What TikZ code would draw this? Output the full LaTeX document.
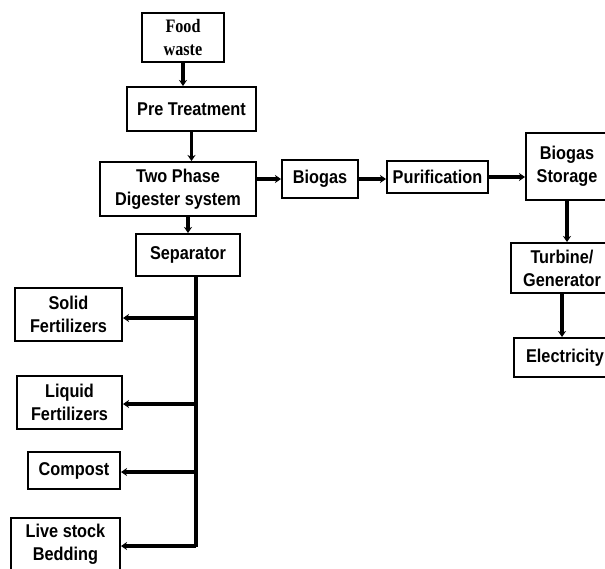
\documentclass[tikz,border=0pt]{standalone}
\usepackage{fontspec}
\setmainfont{Liberation Sans}[FakeStretch=0.88]
\newfontfamily\foodfont{Liberation Serif}[FakeStretch=0.85]
\usetikzlibrary{arrows.meta}

\begin{document}
\begin{tikzpicture}[
          x=1pt, y=-1pt,
          every node/.style={font=\fontsize{18.5}{23}\selectfont\bfseries, draw, rectangle, line width=2pt, align=center, inner sep=0pt},
          flow/.style={line width=3.5pt, -{Stealth[length=6pt,width=8pt]}},
          trunk/.style={line width=4.5pt},
        ]
        \useasboundingbox (0,0) rectangle (605,568);

        % main line
        \node[minimum width=82pt, minimum height=49pt, font=\fontsize{19}{23}\selectfont\foodfont\bfseries] (food) at (183,37.5) {Food\\waste};
        \node[minimum width=129pt, minimum height=44pt] (pre) at (191.5,109) {Pre Treatment};
        \node[minimum width=156pt, minimum height=54pt] (digester) at (178,189) {Two Phase\\Digester system};
        \node[minimum width=104pt, minimum height=42pt] (separator) at (188,255) {Separator};

        % gas line
        \node[minimum width=76pt, minimum height=38pt] (biogas) at (320,179) {Biogas};
        \node[minimum width=101pt, minimum height=32pt] (purification) at (437.5,177) {Purification};
        \node[minimum width=82pt, minimum height=67pt] (storage) at (567,166.5) {Biogas\\Storage};
        \node[minimum width=102pt, minimum height=50pt] (turbine) at (562,268) {Turbine/\\Generator};
        \node[minimum width=102pt, minimum height=39pt] (electricity) at (565,357.5) {Electricity};

        % products
        \node[minimum width=107pt, minimum height=53pt] (solid) at (68.5,314.5) {Solid\\Fertilizers};
        \node[minimum width=105pt, minimum height=53pt] (liquid) at (69.5,402.5) {Liquid\\Fertilizers};
        \node[minimum width=92pt, minimum height=37pt] (compost) at (74,470.5) {Compost};
        \node[minimum width=109pt, minimum height=53pt] (bedding) at (65.5,544.5) {Live stock\\Bedding};

        \coordinate (trunkend) at (196,547);

        \draw[flow] (food.south) -- (food.south |- pre.north);
        \draw[flow] (pre.south) -- (pre.south |- digester.north);
        \draw[flow] (separator.north |- digester.south) -- (separator.north);
        \draw[flow] (digester.east |- biogas.west) -- (biogas.west);
        \draw[flow] (biogas.east) -- (biogas.east -| purification.west);
        \draw[flow] (purification.east) -- (purification.east -| storage.west);
        \draw[flow] (storage.south) -- (storage.south |- turbine.north);
        \draw[flow] (turbine.south) -- (turbine.south |- electricity.north);

        \draw[trunk] (trunkend |- separator.south) -- (trunkend);
        \foreach \n/\y in {solid/318, liquid/404, compost/472, bedding/546}
          \draw[flow] (196,\y) -- (\n.east |- 0,\y);
\end{tikzpicture}
\end{document}
